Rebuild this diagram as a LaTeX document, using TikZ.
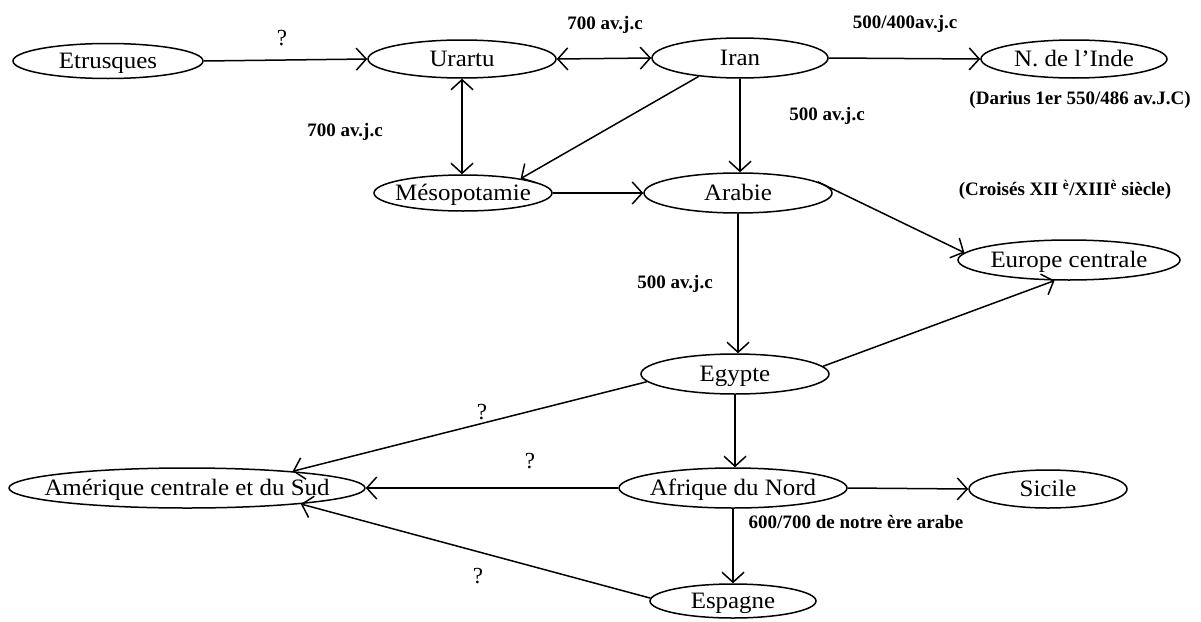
\documentclass[tikz,border=0pt]{standalone}
\usepackage{fontspec}
\setmainfont{Liberation Serif}
\newfontfamily\widefont[FakeStretch=1.06]{Liberation Serif}
\usetikzlibrary{shapes.geometric,arrows.meta}
\tikzset{
  place/.style={draw, ellipse, line width=1.5pt, inner sep=0pt, minimum height=38pt,
    text height=18pt, text depth=4pt,
    execute at begin node={\hbox to 0pt\bgroup\hss},
    execute at end node={\hss\egroup},
    font=\widefont\fontsize{23.5}{26}\selectfont},
  link/.style={line width=1.5pt, -{Straight Barb[length=10pt,width=22pt,line width=1.5pt]}},
  dlink/.style={line width=1.5pt, {Straight Barb[length=10pt,width=22pt,line width=1.5pt]}-{Straight Barb[length=10pt,width=22pt,line width=1.5pt]}},
  lab/.style={font=\bfseries\fontsize{19}{21}\selectfont, inner sep=0pt},
  qm/.style={font=\fontsize{23}{25}\selectfont, inner sep=0pt}
}
\begin{document}
\begin{tikzpicture}[x=1pt,y=-1pt]
\useasboundingbox (0,0) rectangle (1201,621);
% nodes
\node[place, minimum width=190pt, minimum height=35pt] (etr) at (108,61) {Etrusques};
\node[place, minimum width=188pt] (ura) at (462,59) {Urartu};
\node[place, minimum width=176pt, minimum height=40pt] (iran) at (740,58) {Iran};
\node[place, minimum width=186pt] (inde) at (1074,59) {N. de l’Inde};
\node[place, minimum width=178pt, minimum height=36pt] (meso) at (463,193) {Mésopotamie};
\node[place, minimum width=188pt, minimum height=40pt] (arab) at (738,193) {Arabie};
\node[place, minimum width=222pt, minimum height=40pt] (euro) at (1069,260) {Europe centrale};
\node[place, minimum width=188pt, minimum height=40pt] (egy) at (735,374) {Egypte};
\node[place, minimum width=356pt, minimum height=40pt] (amer) at (187,488) {Amérique centrale et du Sud};
\node[place, minimum width=228pt, minimum height=40pt] (afr) at (733,488) {Afrique du Nord};
\node[place, minimum width=158pt, minimum height=38pt] (sic) at (1048,489) {Sicile};
\node[place, minimum width=166pt, minimum height=34pt] (esp) at (733,601) {Espagne};
% connectors
\draw[link] (etr.east) -- (ura.west);
\draw[dlink] (ura.east) -- (iran.west);
\draw[link] (iran.east) -- (inde.west);
\draw[dlink] (ura.south) -- (ura.south |- meso.north);
\draw[link] (iran.204) -- (meso.14);
\draw[link] (iran.south) -- (iran.south |- arab.north);
\draw[link] (meso.east) -- (arab.west);
\draw[link] (arab.8) -- (euro.176);
\draw[link] (arab.south) -- (arab.south |- egy.north);
\draw[link] (egy.5) -- (euro.235);
\draw[link] (egy.185) -- (amer.9);
\draw[link] (egy.south) -- (egy.south |- afr.north);
\draw[link] (afr.west) -- (amer.east);
\draw[link] (afr.east) -- (sic.west);
\draw[link] (afr.south) -- (afr.south |- esp.north);
\draw[link] (esp.178) -- (amer.352);
% labels
\node[qm] (q1) at (282,38) {?};
\node[lab] (l1) at (605,25) {700 av.j.c};
\node[lab] (l2) at (905,24) {500/400av.j.c};
\node[lab] (l3) at (1080,100) {(Darius 1er 550/486 av.J.C)};
\node[lab] (l4) at (345,132) {700 av.j.c};
\node[lab] (l5) at (827,116) {500 av.j.c};
\node[lab] (l6) at (1065,190) {(Croisés XII \textsuperscript{è}/XIII\textsuperscript{è} siècle)};
\node[lab] (l7) at (675,284) {500 av.j.c};
\node[qm] (q2) at (482,412) {?};
\node[qm] (q3) at (530,461) {?};
\node[lab] (l8) at (856,522) {600/700 de notre ère arabe};
\node[qm] (q4) at (478,576) {?};
\end{tikzpicture}
\end{document}
